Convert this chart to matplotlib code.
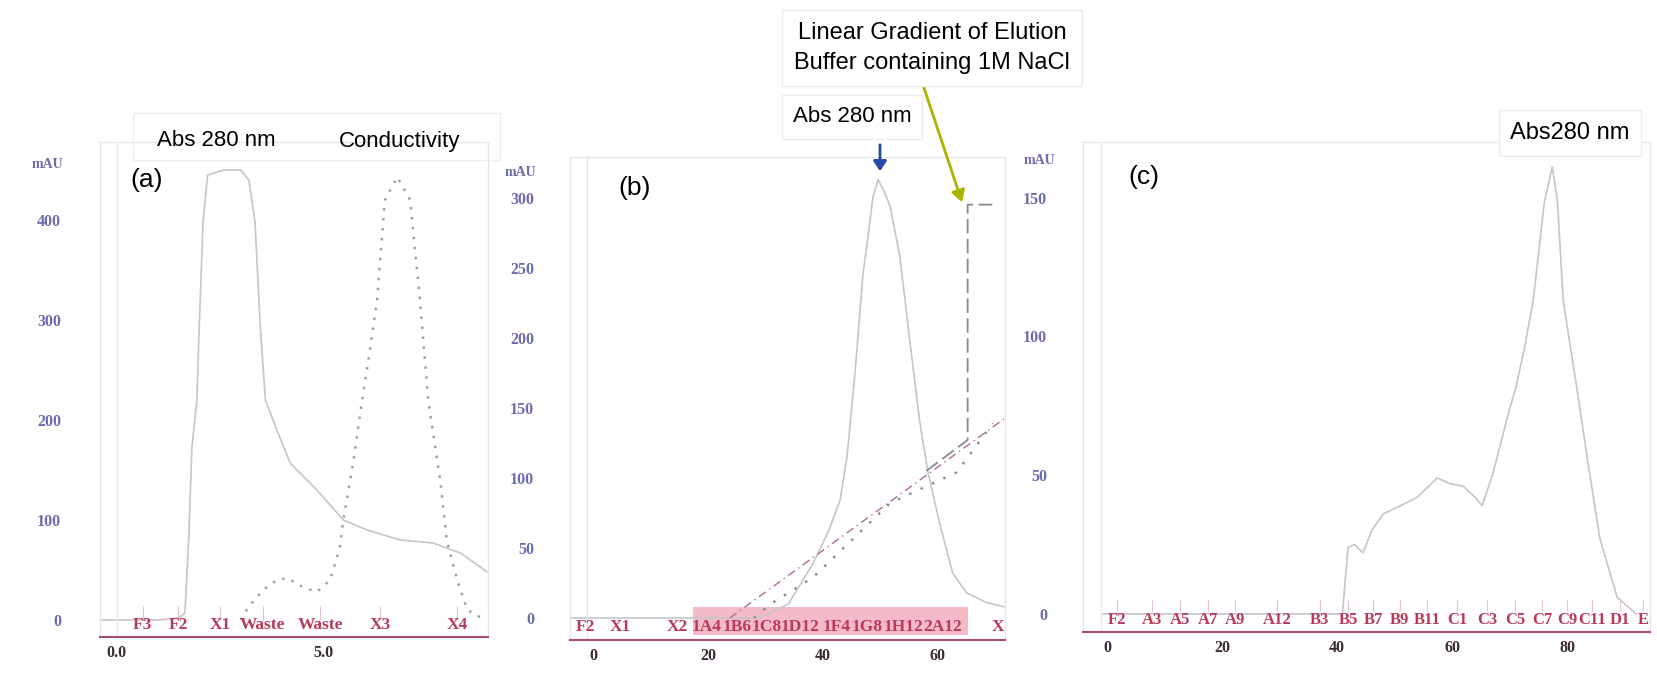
import numpy as np
import matplotlib
matplotlib.use("Agg")
import matplotlib.pyplot as plt
from matplotlib.patches import Rectangle, FancyArrowPatch

W, H = 1657, 678

# ---- panel (a): Abs 280 nm and conductivity vs volume
a_abs_x = [-0.4, 1.0, 1.5, 1.65, 1.74, 1.82, 1.94, 2.0, 2.09, 2.2, 2.6, 3.0, 3.2, 3.35, 3.47, 3.6, 3.88, 4.2, 4.85, 5.49, 6.07, 6.87, 7.67, 8.33, 8.98]
a_abs_y = [0, 0, 2, 7, 80, 173, 220, 298, 398, 445, 450, 450, 440, 398, 298, 220, 190, 157, 130, 100, 90, 80, 77, 67, 48]
a_cond_x = [3.0, 3.19, 3.54, 3.88, 4.13, 4.51, 4.85, 5.17, 5.41, 5.49, 5.73, 5.9, 6.1, 6.31, 6.5, 6.8, 7.11, 7.35, 7.55, 7.84, 8.0, 8.25, 8.5, 8.93]
a_cond_y = [0, 13, 30, 40, 42, 33, 28, 40, 73, 100, 157, 207, 260, 320, 420, 443, 420, 320, 220, 140, 80, 40, 10, 0]
a_frac_x = [0.63, 1.48, 2.5, 3.54, 4.93, 6.38, 8.25]
a_frac_lab = ["F3", "F2", "X1", "Waste", "Waste", "X3", "X4"]
a_xticks = [0.0, 5.0]
a_yticks = [0, 100, 200, 300, 400]

# ---- panel (b): anion exchange with linear NaCl gradient
b_abs_x = [-4, 0, 10, 20, 28, 30, 34, 38.3, 41, 43, 44.2, 45.6, 47.0, 47.8, 48.7, 49.6, 50.6, 51.7, 53.4, 55.1, 56.9, 58.3, 60.3, 62.6, 65.0, 68.5, 71.5]
b_abs_y = [0, 0, 0, 0, 0, 2, 10, 39, 62, 84, 115, 175, 246, 270, 300, 313, 305, 294, 258, 199, 139, 104, 68, 32, 18, 11, 8]
b_grad_x = [58.0, 65.2, 65.2, 69.5]
b_grad_y = [105, 127, 295, 295]
b_line_x = [23.8, 71.5]
b_line_y = [0, 142]
b_cond_x = [28.0, 31.3, 38.3, 51.7, 63.3, 69.6]
b_cond_y = [0, 11, 29, 82, 104, 139]
b_frac_x = [-1.4, 4.7, 14.6, 19.8, 25.0, 30.3, 36.0, 42.4, 47.7, 54.0, 60.9, 70.5]
b_frac_lab = ["F2", "X1", "X2", "1A4", "1B6", "1C8", "1D12", "1F4", "1G8", "1H12", "2A12", "X"]
b_xticks = [0, 20, 40, 60]
b_yticks = [0, 50, 100, 150, 200, 250, 300]

# ---- panel (c): final polishing step
c_abs_x = [-1, 0, 10, 20, 30, 40, 40.9, 41.9, 43.0, 44.5, 46.0, 48.0, 51.0, 53.9, 57.4, 59.5, 61.9, 64.0, 65.2, 67.0, 70.0, 71.0, 72.5, 74.1, 76.0, 77.4, 78.3, 79.3, 81.7, 83.5, 85.7, 88.7, 92.0]
c_abs_y = [0, 0, 0, 0, 0, 0, 0, 24, 25, 22, 30, 36, 39, 42, 49, 47, 46, 42, 39, 50, 74, 81, 95, 113, 148, 161, 149, 113, 81, 56, 27, 6, 0]
c_frac_x = [1.7, 7.8, 12.7, 17.6, 22.3, 29.6, 37.0, 41.9, 46.3, 50.9, 55.7, 60.9, 66.1, 71.0, 75.7, 80.0, 84.3, 89.2, 93.2]
c_frac_lab = ["F2", "A3", "A5", "A7", "A9", "A12", "B3", "B5", "B7", "B9", "B11", "C1", "C3", "C5", "C7", "C9", "C11", "D1", "E"]
c_xticks = [0, 20, 40, 60, 80]
c_yticks = [0, 50, 100, 150]

TICK_Y = "#6b6bb0"
TICK_X = "#3b2b35"
FRAC = "#b83a58"
CURVE = "#c6c6c6"
SERIF = ["Liberation Serif", "DejaVu Serif"]
SANS = ["Liberation Sans", "DejaVu Sans"]


def px(x, y):
    return x / W, 1 - y / H


def make_ax(l, r, t, b, xlim, ylim, xticks, yticks, xfmt, ypad):
    x0, y0 = px(l, b)
    x1, y1 = px(r, t)
    ax = fig.add_axes([x0, y0, x1 - x0, y1 - y0])
    ax.set_xlim(*xlim)
    ax.set_ylim(*ylim)
    ax.set_xticks(xticks)
    ax.set_xticklabels([xfmt % v for v in xticks])
    ax.set_yticks(yticks)
    ax.tick_params(axis="y", length=0, pad=ypad, labelcolor=TICK_Y, labelsize=11.5)
    ax.tick_params(axis="x", length=0, pad=6, labelcolor=TICK_X, labelsize=11.5)
    for lab in ax.get_xticklabels() + ax.get_yticklabels():
        lab.set_family(SERIF)
        lab.set_fontweight("bold")
    for s in ["left", "top", "right"]:
        ax.spines[s].set_color("#e6e6e6")
        ax.spines[s].set_linewidth(1.0)
    ax.spines["bottom"].set_color("#a4506e")
    ax.spines["bottom"].set_linewidth(1.5)
    ax.set_facecolor("none")
    return ax


def fractions(ax, xs, labs, yv, size=12):
    for x, s in zip(xs, labs):
        ax.text(x, yv, s, ha="center", va="center", color=FRAC, fontsize=size,
                fontweight="bold", family=SERIF, clip_on=False)


fig = plt.figure(figsize=(W / 100, H / 100), dpi=100)

# (a)
ax_a = make_ax(100, 488, 142, 637, (-0.41, 9.0), (-17, 478), a_xticks, a_yticks, "%.1f", 28)
ax_a.plot(a_abs_x, a_abs_y, color=CURVE, lw=1.2)
ax_a.plot(a_cond_x, a_cond_y, color="#a0a0a0", lw=1.8, ls=(0, (1, 3)))
ax_a.axvline(0.0, color="#ececec", lw=1)
ax_a.vlines(a_frac_x, 0, 14, color="#e4c0cc", lw=0.8)
fractions(ax_a, a_frac_x, a_frac_lab, -5, 12.5)
fig.text(*px(32, 165), "mAU", color=TICK_Y, fontsize=10, fontweight="bold", family=SERIF, ha="left", va="center")
fig.text(*px(130, 180), "(a)", fontsize=19, family=SANS, ha="left", va="center")
fig.add_artist(Rectangle(px(133, 160), (500 - 133) / W, 47 / H, transform=fig.transFigure,
                         fc="none", ec="#eeeeee", lw=1))
fig.text(*px(216, 141), "Abs 280 nm", fontsize=16, family=SANS, ha="center", va="center")
fig.text(*px(400, 141), "Conductivity", fontsize=16, family=SANS, ha="center", va="center")

# (b)
ax_b = make_ax(570, 1005, 157, 640, (-4.0, 71.7), (-15.7, 329), b_xticks, b_yticks, "%d", 26)
ax_b.add_patch(Rectangle((17.4, -12), 47.8, 20, color="#f2a9bb", alpha=0.8, lw=0, zorder=0))
ax_b.plot(b_abs_x, b_abs_y, color=CURVE, lw=1.2)
ax_b.plot(b_line_x, b_line_y, color="#b07080", lw=1.0, ls=(0, (6, 3, 1, 3)))
ax_b.plot(b_cond_x, b_cond_y, color="#909090", lw=1.8, ls=(0, (1, 4)))
ax_b.plot(b_grad_x, b_grad_y, color="#8a8a8a", lw=1.3, ls=(0, (8, 3)))
ax_b.axvline(-1.0, color="#e6e6e6", lw=1)
fractions(ax_b, b_frac_x, b_frac_lab, -6.4, 12.5)
fig.text(*px(505, 173), "mAU", color=TICK_Y, fontsize=10, fontweight="bold", family=SERIF, ha="left", va="center")
fig.text(*px(618, 188), "(b)", fontsize=19, family=SANS, ha="left", va="center")
fig.text(*px(932, 48), "Linear Gradient of Elution\nBuffer containing 1M NaCl", fontsize=17,
         family=SANS, ha="center", va="center", linespacing=1.5,
         bbox=dict(boxstyle="square,pad=0.5", fc="white", ec="#ececec"))
fig.text(*px(852, 117), "Abs 280 nm", fontsize=16, family=SANS, ha="center", va="center",
         bbox=dict(boxstyle="square,pad=0.5", fc="white", ec="#ececec"))
fig.patches.append(FancyArrowPatch(px(880, 142), px(880, 174), transform=fig.transFigure,
                                   arrowstyle="-|>,head_length=6,head_width=4", color="#2848a8", lw=2))
fig.patches.append(FancyArrowPatch(px(922, 82), px(963, 205), transform=fig.transFigure,
                                   arrowstyle="-|>,head_length=7,head_width=4", color="#a8b400", lw=2))

# (c)
ax_c = make_ax(1083, 1650, 142, 632, (-4.2, 94.4), (-6.5, 170), c_xticks, c_yticks, "%d", 26)
ax_c.plot(c_abs_x, c_abs_y, color=CURVE, lw=1.2)
ax_c.axvline(-1.0, color="#ececec", lw=1)
ax_c.vlines(c_frac_x, 1, 5, color="#e0c4cc", lw=0.8)
fractions(ax_c, c_frac_x, c_frac_lab, -2.2, 12)
fig.text(*px(1024, 160), "mAU", color=TICK_Y, fontsize=10, fontweight="bold", family=SERIF, ha="left", va="center")
fig.text(*px(1128, 177), "(c)", fontsize=19, family=SANS, ha="left", va="center")
fig.text(*px(1570, 133), "Abs280 nm", fontsize=17, family=SANS, ha="center", va="center",
         bbox=dict(boxstyle="square,pad=0.5", fc="white", ec="#ececec"))

fig.savefig("out.png", dpi=100)
